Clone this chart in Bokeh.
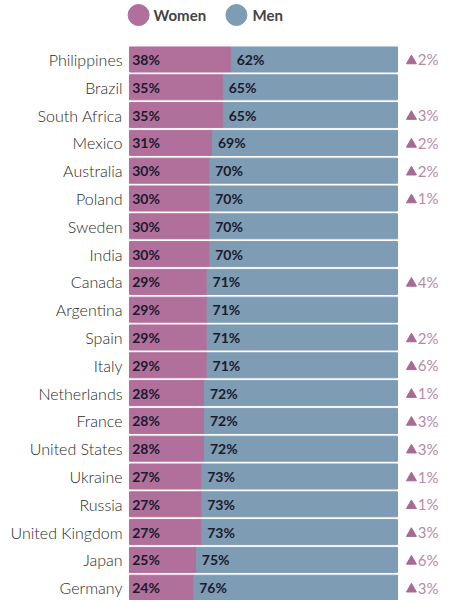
from bokeh.plotting import figure
from bokeh.models import Range1d, ColumnDataSource
from bokeh.core.properties import value
from bokeh.embed import file_html
from bokeh.resources import INLINE

# data
countries = ["Philippines", "Brazil", "South Africa", "Mexico", "Australia",
             "Poland", "Sweden", "India", "Canada", "Argentina", "Spain",
             "Italy", "Netherlands", "France", "United States", "Ukraine",
             "Russia", "United Kingdom", "Japan", "Germany"]
women = [38, 35, 35, 31, 30, 30, 30, 30, 29, 29, 29, 29, 28, 28, 28, 27, 27, 27, 25, 24]
men = [100 - w for w in women]
change = [2, None, 3, 2, 2, 1, None, None, 4, None, 2, 6, 1, 3, 3, 1, 1, 3, 6, 3]
legend_labels = ["Women", "Men"]

WOMEN_C = "#b0709b"
MEN_C = "#7e9cb4"
TEXT_C = "#1c1a2c"
CHANGE_C = "#b68aa9"
TRI_C = "#a86a94"

rows = list(range(len(countries)))
src = ColumnDataSource(dict(
    y=rows, country=countries, women=women, men=men,
    women_lbl=[f"{w}%" for w in women],
    men_lbl=[f"{m}%" for m in men],
    men_x=[w + 2 for w in women],
))

p = figure(width=460, height=600, output_backend="svg", toolbar_location=None,
           x_range=Range1d(-48.13, 123.51), y_range=Range1d(19.46, -2.122),
           min_border=0)
p.axis.visible = False
p.grid.visible = False
p.outline_line_color = None

# stacked bars
p.hbar(y="y", left=0, right="women", height=0.9, color=WOMEN_C, source=src)
p.hbar(y="y", left="women", right=100, height=0.9, color=MEN_C, source=src)

# country names
p.text(x=-2.6, y="y", text="country", source=src, text_align="right",
       text_baseline="middle", text_font=value("Lato Light"), text_font_size="16px",
       text_color="#2a2a2a")

# percentage labels
p.text(x=1.0, y="y", text="women_lbl", source=src, text_baseline="middle",
       text_font=value("Lato"), text_font_style="bold", text_font_size="14px",
       text_color=TEXT_C)
p.text(x="men_x", y="y", text="men_lbl", source=src, text_baseline="middle",
       text_font=value("Lato"), text_font_style="bold", text_font_size="14px",
       text_color=TEXT_C)

# change column: triangle marker plus value
ch_rows = [r for r, c in zip(rows, change) if c is not None]
ch_txt = [f"{c}%" for c in change if c is not None]
p.scatter(x=[105.2] * len(ch_rows), y=[r + 0.05 for r in ch_rows], marker="triangle",
          size=10, color=TRI_C)
p.text(x=[107.6] * len(ch_rows), y=ch_rows, text=ch_txt, text_baseline="middle",
       text_font=value("Lato"), text_font_size="15px", text_color=CHANGE_C)

# legend
p.scatter(x=[3.4, 39.9], y=[-1.6, -1.6], size=21, color=[WOMEN_C, MEN_C])
p.text(x=[9.0, 45.9], y=[-1.6, -1.6], text=legend_labels, text_baseline="middle",
       text_font=value("Lato"), text_font_style="bold", text_font_size="15px",
       text_color="#444444")

open("out.html", "w").write(file_html(p, INLINE))
